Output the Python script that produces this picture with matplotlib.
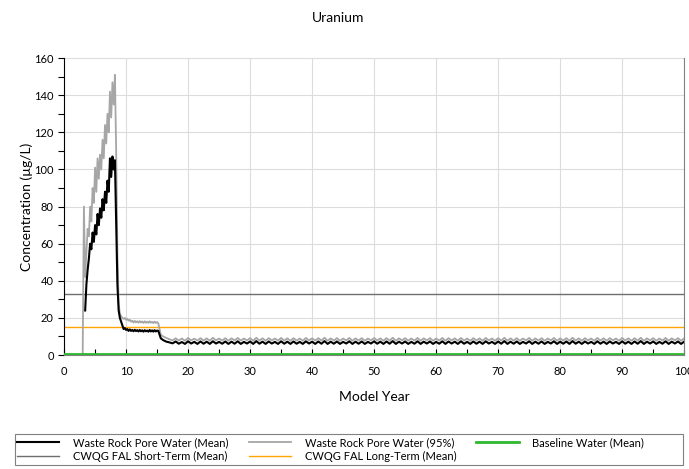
import numpy as np
import matplotlib
matplotlib.use('Agg')
import matplotlib.pyplot as plt
from matplotlib.patches import Rectangle
from matplotlib.ticker import MultipleLocator

plt.rcParams['font.family'] = ['Lato', 'DejaVu Sans']

# early period, 0.2 yr steps from 3.0 to 15.8
early_years = np.round(np.arange(3.0, 15.81, 0.2), 2)
early_mean = [
    np.nan, np.nan, 24, 38, 46, 52, 60, 57, 66, 61,
    70, 65, 76, 70, 79, 74, 84, 78, 88, 82,
    94, 88, 106, 96, 107, 100, 105, 70, 38, 24,
    20, 18, 16, 14, 14.5, 13.5, 14, 13, 13.8, 13,
    13.5, 12.8, 13.6, 12.9, 13.4, 12.7, 13.5, 12.8, 13.3, 12.6,
    13.4, 12.8, 13.2, 12.6, 13.5, 12.7, 13.3, 12.6, 13.4, 12.7,
    13.2, 13.0, 11.0, 9.0, 8.5,
]
early_p95 = [
    0, 80, 42, 55, 68, 64, 80, 72, 90, 82,
    101, 88, 106, 95, 108, 100, 116, 106, 124, 114,
    130, 120, 142, 128, 147, 135, 151, 110, 55, 28,
    22, 21, 20, 19.5, 20, 19, 19.5, 18.5, 19, 18,
    18.5, 17.5, 18.4, 17.6, 18.2, 17.4, 18.3, 17.5, 18.1, 17.3,
    18.2, 17.4, 18.0, 17.3, 18.2, 17.4, 17.9, 17.2, 18.0, 17.3,
    17.8, 17.0, 14.0, 11.0, 10.4,
]

# long tail, 0.5 yr steps from 16.0 to 100.0
tail_years = np.arange(16.0, 100.01, 0.5)
tail_mean = [
    8.0, 7.2, 6.8, 6.3, 7.3, 6.1, 7.0, 6.0, 7.4, 6.2, 7.1, 6.0, 7.3, 6.1, 7.2, 6.0, 7.4, 6.2, 7.1, 6.1,
    7.3, 6.0, 7.2, 6.1, 7.4, 6.0, 7.1, 6.2, 7.3, 6.0, 7.5, 6.1, 7.2, 6.0, 7.3, 6.2, 7.1, 6.0, 7.4, 6.1,
    7.2, 6.0, 7.3, 6.1, 7.1, 6.0, 7.4, 6.2, 7.2, 6.0, 7.3, 6.1, 7.5, 6.0, 7.2, 6.1, 7.3, 6.0, 7.1, 6.2,
    7.4, 6.0, 7.2, 6.1, 7.3, 6.0, 7.1, 6.2, 7.4, 6.1, 7.2, 6.0, 7.3, 6.1, 7.5, 6.0, 7.2, 6.2, 7.3, 6.0,
    7.1, 6.1, 7.4, 6.0, 7.2, 6.2, 7.3, 6.0, 7.1, 6.1, 7.4, 6.0, 7.3, 6.2, 7.2, 6.0, 7.4, 6.1, 7.1, 6.0,
    7.3, 6.1, 7.2, 6.0, 7.4, 6.2, 7.1, 6.0, 7.3, 6.1, 7.5, 6.0, 7.2, 6.1, 7.3, 6.0, 7.1, 6.2, 7.4, 6.0,
    7.2, 6.1, 7.3, 6.0, 7.1, 6.2, 7.4, 6.0, 7.2, 6.1, 7.3, 6.0, 7.5, 6.1, 7.2, 6.0, 7.3, 6.2, 7.1, 6.0,
    7.4, 6.1, 7.2, 6.0, 7.3, 6.2, 7.1, 6.0, 7.4, 6.1, 7.2, 6.0, 7.3, 6.1, 7.5, 6.0, 7.2, 6.2, 7.3, 6.0,
    7.1, 6.1, 7.4, 6.0, 7.2, 6.2, 7.3, 6.0, 7.2,
]
tail_p95 = [
    10.0, 9.2, 8.5, 7.9, 9.0, 7.8, 8.9, 7.7, 9.2, 7.9, 8.8, 7.8, 9.1, 7.8, 9.0, 7.7, 9.3, 7.9, 8.9, 7.8,
    9.1, 7.7, 9.0, 7.9, 9.2, 7.8, 8.9, 7.9, 9.1, 7.7, 9.3, 7.8, 9.0, 7.7, 9.1, 7.9, 8.9, 7.8, 9.2, 7.8,
    9.0, 7.7, 9.1, 7.8, 8.9, 7.7, 9.2, 7.9, 9.0, 7.8, 9.1, 7.8, 9.3, 7.7, 9.0, 7.8, 9.1, 7.7, 8.9, 7.9,
    9.2, 7.7, 9.0, 7.8, 9.1, 7.7, 8.9, 7.9, 9.2, 7.8, 9.0, 7.7, 9.1, 7.8, 9.3, 7.7, 9.0, 7.9, 9.1, 7.7,
    8.9, 7.8, 9.2, 7.7, 9.0, 7.9, 9.1, 7.7, 8.9, 7.8, 9.2, 7.7, 9.1, 7.9, 9.0, 7.7, 9.2, 7.8, 8.9, 7.7,
    9.1, 7.8, 9.0, 7.7, 9.2, 7.9, 8.9, 7.7, 9.1, 7.8, 9.3, 7.7, 9.0, 7.8, 9.1, 7.7, 8.9, 7.9, 9.2, 7.7,
    9.0, 7.8, 9.1, 7.7, 8.9, 7.9, 9.2, 7.7, 9.0, 7.8, 9.1, 7.7, 9.3, 7.8, 9.0, 7.7, 9.1, 7.9, 8.9, 7.7,
    9.2, 7.8, 9.0, 7.7, 9.1, 7.9, 8.9, 7.7, 9.2, 7.8, 9.0, 7.7, 9.1, 7.8, 9.3, 7.7, 9.0, 7.9, 9.1, 7.7,
    8.9, 7.8, 9.2, 7.7, 9.0, 7.9, 9.1, 7.7, 9.0,
]

baseline = 0.4
cwqg_short = 33
cwqg_long = 15

years = np.concatenate([early_years, tail_years])
mean = np.concatenate([early_mean, tail_mean])
p95 = np.concatenate([early_p95, tail_p95])

fig = plt.figure(figsize=(6.89, 4.69), dpi=100)
ax = fig.add_axes([0.093, 0.243, 0.9, 0.633])

ax.grid(True, color='#dcdcdc', linewidth=0.8, zorder=0)
ax.set_axisbelow(True)

l_mean, = ax.plot(years, mean, color='black', linewidth=1.5, zorder=4)
l_p95, = ax.plot(years, p95, color='#a6a6a6', linewidth=1.3, zorder=3)
l_base = ax.axhline(baseline, color='#2db82d', linewidth=2, zorder=5)
l_short = ax.axhline(cwqg_short, color='#6e6e6e', linewidth=1, zorder=2)
l_long = ax.axhline(cwqg_long, color='#ffa500', linewidth=1, zorder=2)

ax.set_xlim(0, 100)
ax.set_ylim(0, 160)
ax.xaxis.set_major_locator(MultipleLocator(10))
ax.xaxis.set_minor_locator(MultipleLocator(5))
ax.yaxis.set_major_locator(MultipleLocator(20))
ax.yaxis.set_minor_locator(MultipleLocator(10))
ax.tick_params(axis='y', which='both', direction='out', length=4, width=0.8, labelsize=8)
ax.tick_params(axis='x', which='both', direction='in', length=4, width=0.8, labelsize=8, pad=8)

ax.spines['top'].set_visible(False)
ax.spines['right'].set_color('#808080')
ax.spines['bottom'].set_color('#808080')
ax.spines['left'].set_color('black')

ax.set_xlabel('Model Year', fontsize=10, labelpad=10)
ax.set_ylabel('Concentration (µg/L)', fontsize=10, labelpad=1)
fig.text(0.49, 0.962, 'Uranium', ha='center', va='center', fontsize=10)

# legend box spans nearly the full width, entries sit left
fig.patches.append(Rectangle((15 / 689, 4 / 469), 668 / 689, 31 / 469,
                             transform=fig.transFigure, fill=False,
                             edgecolor='#808080', linewidth=0.8))

handles = [l_mean, l_short, l_p95, l_long, l_base]
labels = ['Waste Rock Pore Water (Mean)', 'CWQG FAL Short-Term (Mean)',
          'Waste Rock Pore Water (95%)', 'CWQG FAL Long-Term (Mean)',
          'Baseline Water (Mean)']
leg = fig.legend(handles, labels, ncol=3, loc='upper left',
                 bbox_to_anchor=(17 / 689, 1 - 437 / 469),
                 fontsize=8, frameon=False,
                 handlelength=3.8, handletextpad=1.25, columnspacing=1.8,
                 borderaxespad=0, borderpad=0, labelspacing=0.28)

fig.savefig('out.png', dpi=100)
